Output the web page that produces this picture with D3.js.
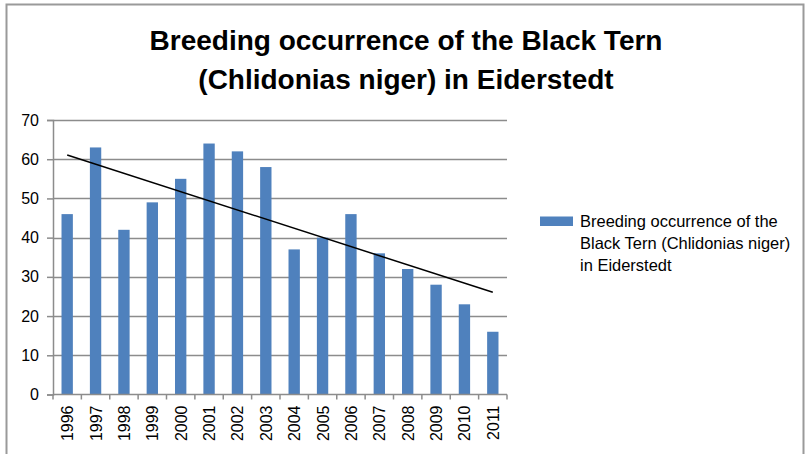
<!DOCTYPE html>
<html>
<head>
<meta charset="utf-8">
<script src="https://cdn.jsdelivr.net/npm/d3@7/dist/d3.min.js"></script>
<style>
  html, body { margin: 0; padding: 0; background: #fff; }
  svg { display: block; }
  text { font-family: "Liberation Sans", Arial, sans-serif; fill: #000; }
</style>
</head>
<body>
<svg id="chart" width="806" height="454"></svg>
<script>
// Breeding pairs of the Black Tern in Eiderstedt, per year
const years = ["1996","1997","1998","1999","2000","2001","2002","2003",
               "2004","2005","2006","2007","2008","2009","2010","2011"];
const pairs = [46, 63, 42, 49, 55, 64, 62, 58, 37, 40, 46, 36, 32, 28, 23, 16];
const yTicks = [0, 10, 20, 30, 40, 50, 60, 70];
const titleLines = ["Breeding occurrence of the Black Tern",
                    "(Chlidonias niger) in Eiderstedt"];
const legendLines = ["Breeding occurrence of the",
                     "Black Tern (Chlidonias niger)",
                     "in Eiderstedt"];

const svg = d3.select("#chart");
const W = 806, H = 454;
const plot = { left: 53, right: 507, top: 120, bottom: 394.5 };
const barColor = "#4F81BD";
const gridColor = "#8c8c8c";

// chart frame (top, left and right edges visible)
svg.append("path")
  .attr("d", `M6.5,${H} V4.5 H803.5 V${H}`)
  .attr("fill", "none")
  .attr("stroke", "#9a9a9a")
  .attr("stroke-width", 2);

const xc = d3.scaleBand().domain(years).range([plot.left, plot.right]);
const y = d3.scaleLinear().domain([0, 70]).range([plot.bottom, plot.top]);
const barW = xc.bandwidth() / 2.5;   // 150% gap width

// horizontal gridlines
svg.append("g")
  .selectAll("line").data(yTicks.filter(d => d > 0)).join("line")
  .attr("x1", plot.left).attr("x2", plot.right)
  .attr("y1", d => Math.round(y(d)) + 0.5).attr("y2", d => Math.round(y(d)) + 0.5)
  .attr("stroke", gridColor).attr("stroke-width", 1.5);

// bars
svg.append("g")
  .selectAll("rect").data(years).join("rect")
  .attr("x", d => xc(d) + (xc.bandwidth() - barW) / 2)
  .attr("width", barW)
  .attr("y", (d, i) => y(pairs[i]))
  .attr("height", (d, i) => plot.bottom - y(pairs[i]))
  .attr("fill", barColor);

// y axis
const yAxis = d3.axisLeft(y).tickValues(yTicks).tickSize(6).tickPadding(8);
const gy = svg.append("g")
  .attr("transform", `translate(${plot.left},0)`)
  .call(yAxis);
gy.select(".domain").attr("stroke", gridColor).attr("stroke-width", 1.5);
gy.selectAll(".tick line").attr("stroke", gridColor).attr("stroke-width", 1.5);
gy.selectAll(".tick text")
  .style("font-family", "'Liberation Sans', Arial, sans-serif")
  .style("font-size", "16px").attr("fill", "#222");

// x axis: ticks sit on category boundaries
svg.append("line")
  .attr("x1", plot.left).attr("x2", plot.right)
  .attr("y1", plot.bottom).attr("y2", plot.bottom)
  .attr("stroke", gridColor).attr("stroke-width", 1.5);
const bounds = years.map(d => xc(d)).concat([plot.right]);
svg.append("g").selectAll("line").data(bounds).join("line")
  .attr("x1", d => d).attr("x2", d => d)
  .attr("y1", plot.bottom).attr("y2", plot.bottom + 5)
  .attr("stroke", gridColor).attr("stroke-width", 1.5);
svg.append("g").selectAll("text").data(years).join("text")
  .attr("transform", d => `translate(${xc(d) + xc.bandwidth() / 2 + 6},${plot.bottom + 11}) rotate(-90)`)
  .attr("text-anchor", "end")
  .style("font-size", "16px")
  .attr("fill", "#222")
  .text(d => d);

// linear trendline (least squares over the yearly values)
const n = pairs.length;
const idx = d3.range(n);
const mx = d3.mean(idx), my = d3.mean(pairs);
const slope = d3.sum(idx, i => (i - mx) * (pairs[i] - my)) / d3.sum(idx, i => (i - mx) ** 2);
const icpt = my - slope * mx;
const cx = i => xc(years[i]) + xc.bandwidth() / 2;
svg.append("line")
  .attr("x1", cx(0)).attr("y1", y(icpt))
  .attr("x2", cx(n - 1)).attr("y2", y(icpt + slope * (n - 1)))
  .attr("stroke", "#000").attr("stroke-width", 1.5);

// title, centred over the chart frame
svg.append("g").selectAll("text").data(titleLines).join("text")
  .attr("x", 406).attr("y", (d, i) => 50 + i * 39)
  .attr("text-anchor", "middle")
  .style("font-weight", "bold").style("font-size", "28px")
  .text(d => d);

// legend
function fitText(sel, target) {
  const w = sel.node().getComputedTextLength();
  const fs = parseFloat(sel.style("font-size"));
  sel.style("font-size", (fs * target / w) + "px");
}
svg.append("rect").attr("x", 540).attr("y", 216.5).attr("width", 33).attr("height", 9.5)
  .attr("fill", barColor);
const legTexts = legendLines.map((s, i) =>
  svg.append("text").attr("x", 580).attr("y", 227 + i * 22)
    .style("font-size", "15px").attr("fill", "#222").text(s));
fitText(legTexts[0], 198);
legTexts.slice(1).forEach(t => t.style("font-size", legTexts[0].style("font-size")));
</script>
</body>
</html>
